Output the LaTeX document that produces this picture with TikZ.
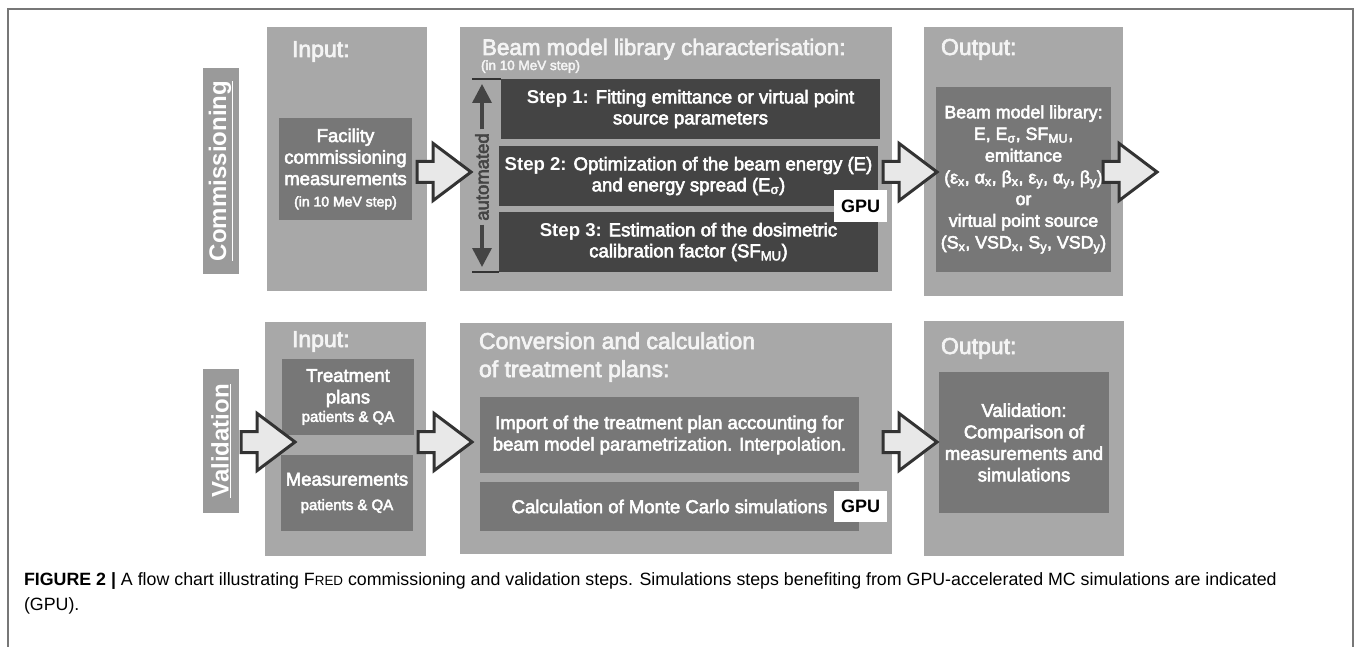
\documentclass[tikz,border=0pt]{standalone}
\usepackage{fontspec}
\setmainfont{Liberation Sans}
\newfontfamily\medfont{Liberation Sans}[FakeBold=3]
\usetikzlibrary{shapes,arrows.meta,calc}

\definecolor{panelgray}{HTML}{A8A8A8}
\definecolor{midgray}{HTML}{777777}
\definecolor{stepgray}{HTML}{444444}
\definecolor{labelgray}{HTML}{9A9A9A}
\definecolor{arrowfill}{HTML}{E8E8E8}
\definecolor{arrowline}{HTML}{333333}
\definecolor{titlewhite}{HTML}{F4F4F4}
\definecolor{framegray}{HTML}{777777}

\begin{document}
\begin{tikzpicture}[x=1pt, y=-1pt,
    every node/.style={inner sep=0pt, outer sep=0pt, text=white, align=center},
    panel/.style={rectangle, fill=panelgray},
    midbox/.style={rectangle, fill=midgray, font=\medfont\fontsize{18.5}{21.5}\selectfont},
    stepbox/.style={rectangle, fill=stepgray, minimum width=379pt, minimum height=60pt, font=\medfont\fontsize{18.6}{21}\selectfont},
    sidelabel/.style={rectangle, fill=labelgray, rotate=90, minimum height=36pt, font=\bfseries\fontsize{24}{24}\selectfont},
    paneltitle/.style={anchor=base west, align=left, text=titlewhite, font=\medfont\fontsize{23}{28}\selectfont},
    gpubox/.style={rectangle, fill=white, text=black, minimum width=53pt, minimum height=32pt, font=\bfseries\fontsize{18}{18}\selectfont},
    bigarrow/.style={single arrow, draw=arrowline, fill=arrowfill, line width=3pt, anchor=tail,
      inner xsep=0pt, inner ysep=9pt, minimum height=54pt, single arrow head extend=18pt, single arrow tip angle=74}]

    \useasboundingbox (0,0) rectangle (1354,647);
    \draw[framegray, line width=1.2pt] (8,647) -- (8,9) -- (1353,9) -- (1353,647);

    % Commissioning
    \node[sidelabel, minimum width=206pt] (comm) at (221,171) {\underline{Commissioning}};
    \node[panel, minimum width=160pt, minimum height=264pt] (intop) at (347,159) {};
    \node[paneltitle] at ($(intop.north west)+(25,30)$) {Input:};
    \node[midbox, minimum width=133pt, minimum height=102pt] (facility) at (345.5,169)
      {Facility\\commissioning\\measurements\\{\fontsize{14}{20}\selectfont(in 10 MeV step)}};

    \node[panel, minimum width=432pt, minimum height=264pt] (beam) at (676,159) {};
    \node[paneltitle, font=\medfont\fontsize{22.4}{28}\selectfont] at ($(beam.north west)+(22,28)$) {Beam model library characterisation:};
    \node[paneltitle, font=\medfont\fontsize{13.5}{14}\selectfont] at ($(beam.north west)+(21,43)$) {(in 10 MeV step)};
    \node[stepbox] (step1) at (690.5,109) {{\normalfont\bfseries Step 1:} Fitting emittance or virtual point\\source parameters};
    \node[stepbox] (step2) at (688.5,176) {{\normalfont\bfseries Step 2:} Optimization of the beam energy (E)\\and energy spread (E\textsubscript{σ})};
    \node[stepbox] (step3) at (688.5,242) {{\normalfont\bfseries Step 3:} Estimation of the dosimetric\\calibration factor (SF\textsubscript{MU})};
    \node[gpubox] (gpu1) at (860.5,206) {GPU};

    % automated bracket
    \node[rotate=90, text=stepgray, font=\medfont\fontsize{18.5}{18}\selectfont] (auto) at (482,177) {automated};
    \draw[stepgray, line width=3.5pt, -{Triangle[length=19pt, width=19pt]}] ($(auto.east)+(0,-4)$) -- ($(auto.east |- step1.north)+(0,5)$);
    \draw[stepgray, line width=3.5pt, -{Triangle[length=19pt, width=19pt]}] ($(auto.west)+(0,4)$) -- ($(auto.west |- step3.south)+(0,-5)$);
    \draw[arrowline, line width=1.5pt] ($(step1.north west)+(-29,0)$) -- (step1.north west);
    \draw[arrowline, line width=1.5pt] ($(step3.south west)+(-27,0)$) -- (step3.south west);

    \node[panel, minimum width=199pt, minimum height=269pt] (outtop) at (1023.5,161.5) {};
    \node[paneltitle] at ($(outtop.north west)+(17,28)$) {Output:};
    \node[midbox, minimum width=175pt, minimum height=185pt, font=\medfont\fontsize{17.8}{21.7}\selectfont] (beamlib) at (1023.5,179.5)
      {Beam model library:\\E, E\textsubscript{σ}, SF\textsubscript{MU},\\emittance\\(ε\textsubscript{x}, α\textsubscript{x}, β\textsubscript{x}, ε\textsubscript{y}, α\textsubscript{y}, β\textsubscript{y})\\or\\virtual point source\\(S\textsubscript{x}, VSD\textsubscript{x}, S\textsubscript{y}, VSD\textsubscript{y})};

    \node[bigarrow] (a1) at ($(facility.east)+(5,3)$) {};
    \node[bigarrow] (a2) at ($(step2.east |- a1.tail)+(5,0)$) {};
    \node[bigarrow] (a3) at ($(beamlib.east |- a1.tail)+(-8,0)$) {};

    % Validation
    \node[sidelabel, minimum width=144pt] (valid) at (221,441) {\underline{Validation}};
    \node[panel, minimum width=161pt, minimum height=234pt] (inbot) at (345.5,439) {};
    \node[paneltitle] at ($(inbot.north west)+(27,25)$) {Input:};
    \node[midbox, minimum width=132pt, minimum height=76pt] (treat) at (348,397)
      {Treatment\\plans\\[-3pt]{\fontsize{15}{18}\selectfont patients \& QA}};
    \node[midbox, minimum width=132pt, minimum height=76pt] (meas) at (347,493)
      {Measurements\\[3pt]{\fontsize{15}{18}\selectfont patients \& QA}};

    \node[panel, minimum width=432pt, minimum height=231pt] (conv) at (676,438.5) {};
    \node[paneltitle] at ($(conv.north west)+(19,54)$) {Conversion and calculation\\of treatment plans:};
    \node[midbox, minimum width=379pt, minimum height=76pt] (import) at (669.5,435)
      {Import of the treatment plan accounting for\\beam model parametrization. Interpolation.};
    \node[midbox, minimum width=379pt, minimum height=49pt] (calc) at (669.5,506.5)
      {Calculation of Monte Carlo simulations};
    \node[gpubox, minimum height=31pt] (gpu2) at (860.5,506.5) {GPU};

    \node[panel, minimum width=200pt, minimum height=235pt] (outbot) at (1024,438.5) {};
    \node[paneltitle] at ($(outbot.north west)+(17,33)$) {Output:};
    \node[midbox, minimum width=170pt, minimum height=141pt] (validout) at (1024,442.5)
      {Validation:\\Comparison of\\measurements and\\simulations};

    \node[bigarrow] (b0) at ($(valid.south)+(2,1)$) {};
    \node[bigarrow] (b1) at ($(inbot.east |- b0.tail)+(-8,0)$) {};
    \node[bigarrow] (b2) at ($(conv.east |- b0.tail)+(-9,0)$) {};

    % caption
    \node[anchor=base west, align=left, text=black, font=\fontsize{17.8}{25}\selectfont] (caption) at (24,610)
      {{\bfseries FIGURE 2 |} A flow chart illustrating F{\fontsize{13.4}{13.4}\selectfont RED} commissioning and validation steps. Simulations steps benefiting from GPU-accelerated MC simulations are indicated\\(GPU).};
\end{tikzpicture}
\end{document}
